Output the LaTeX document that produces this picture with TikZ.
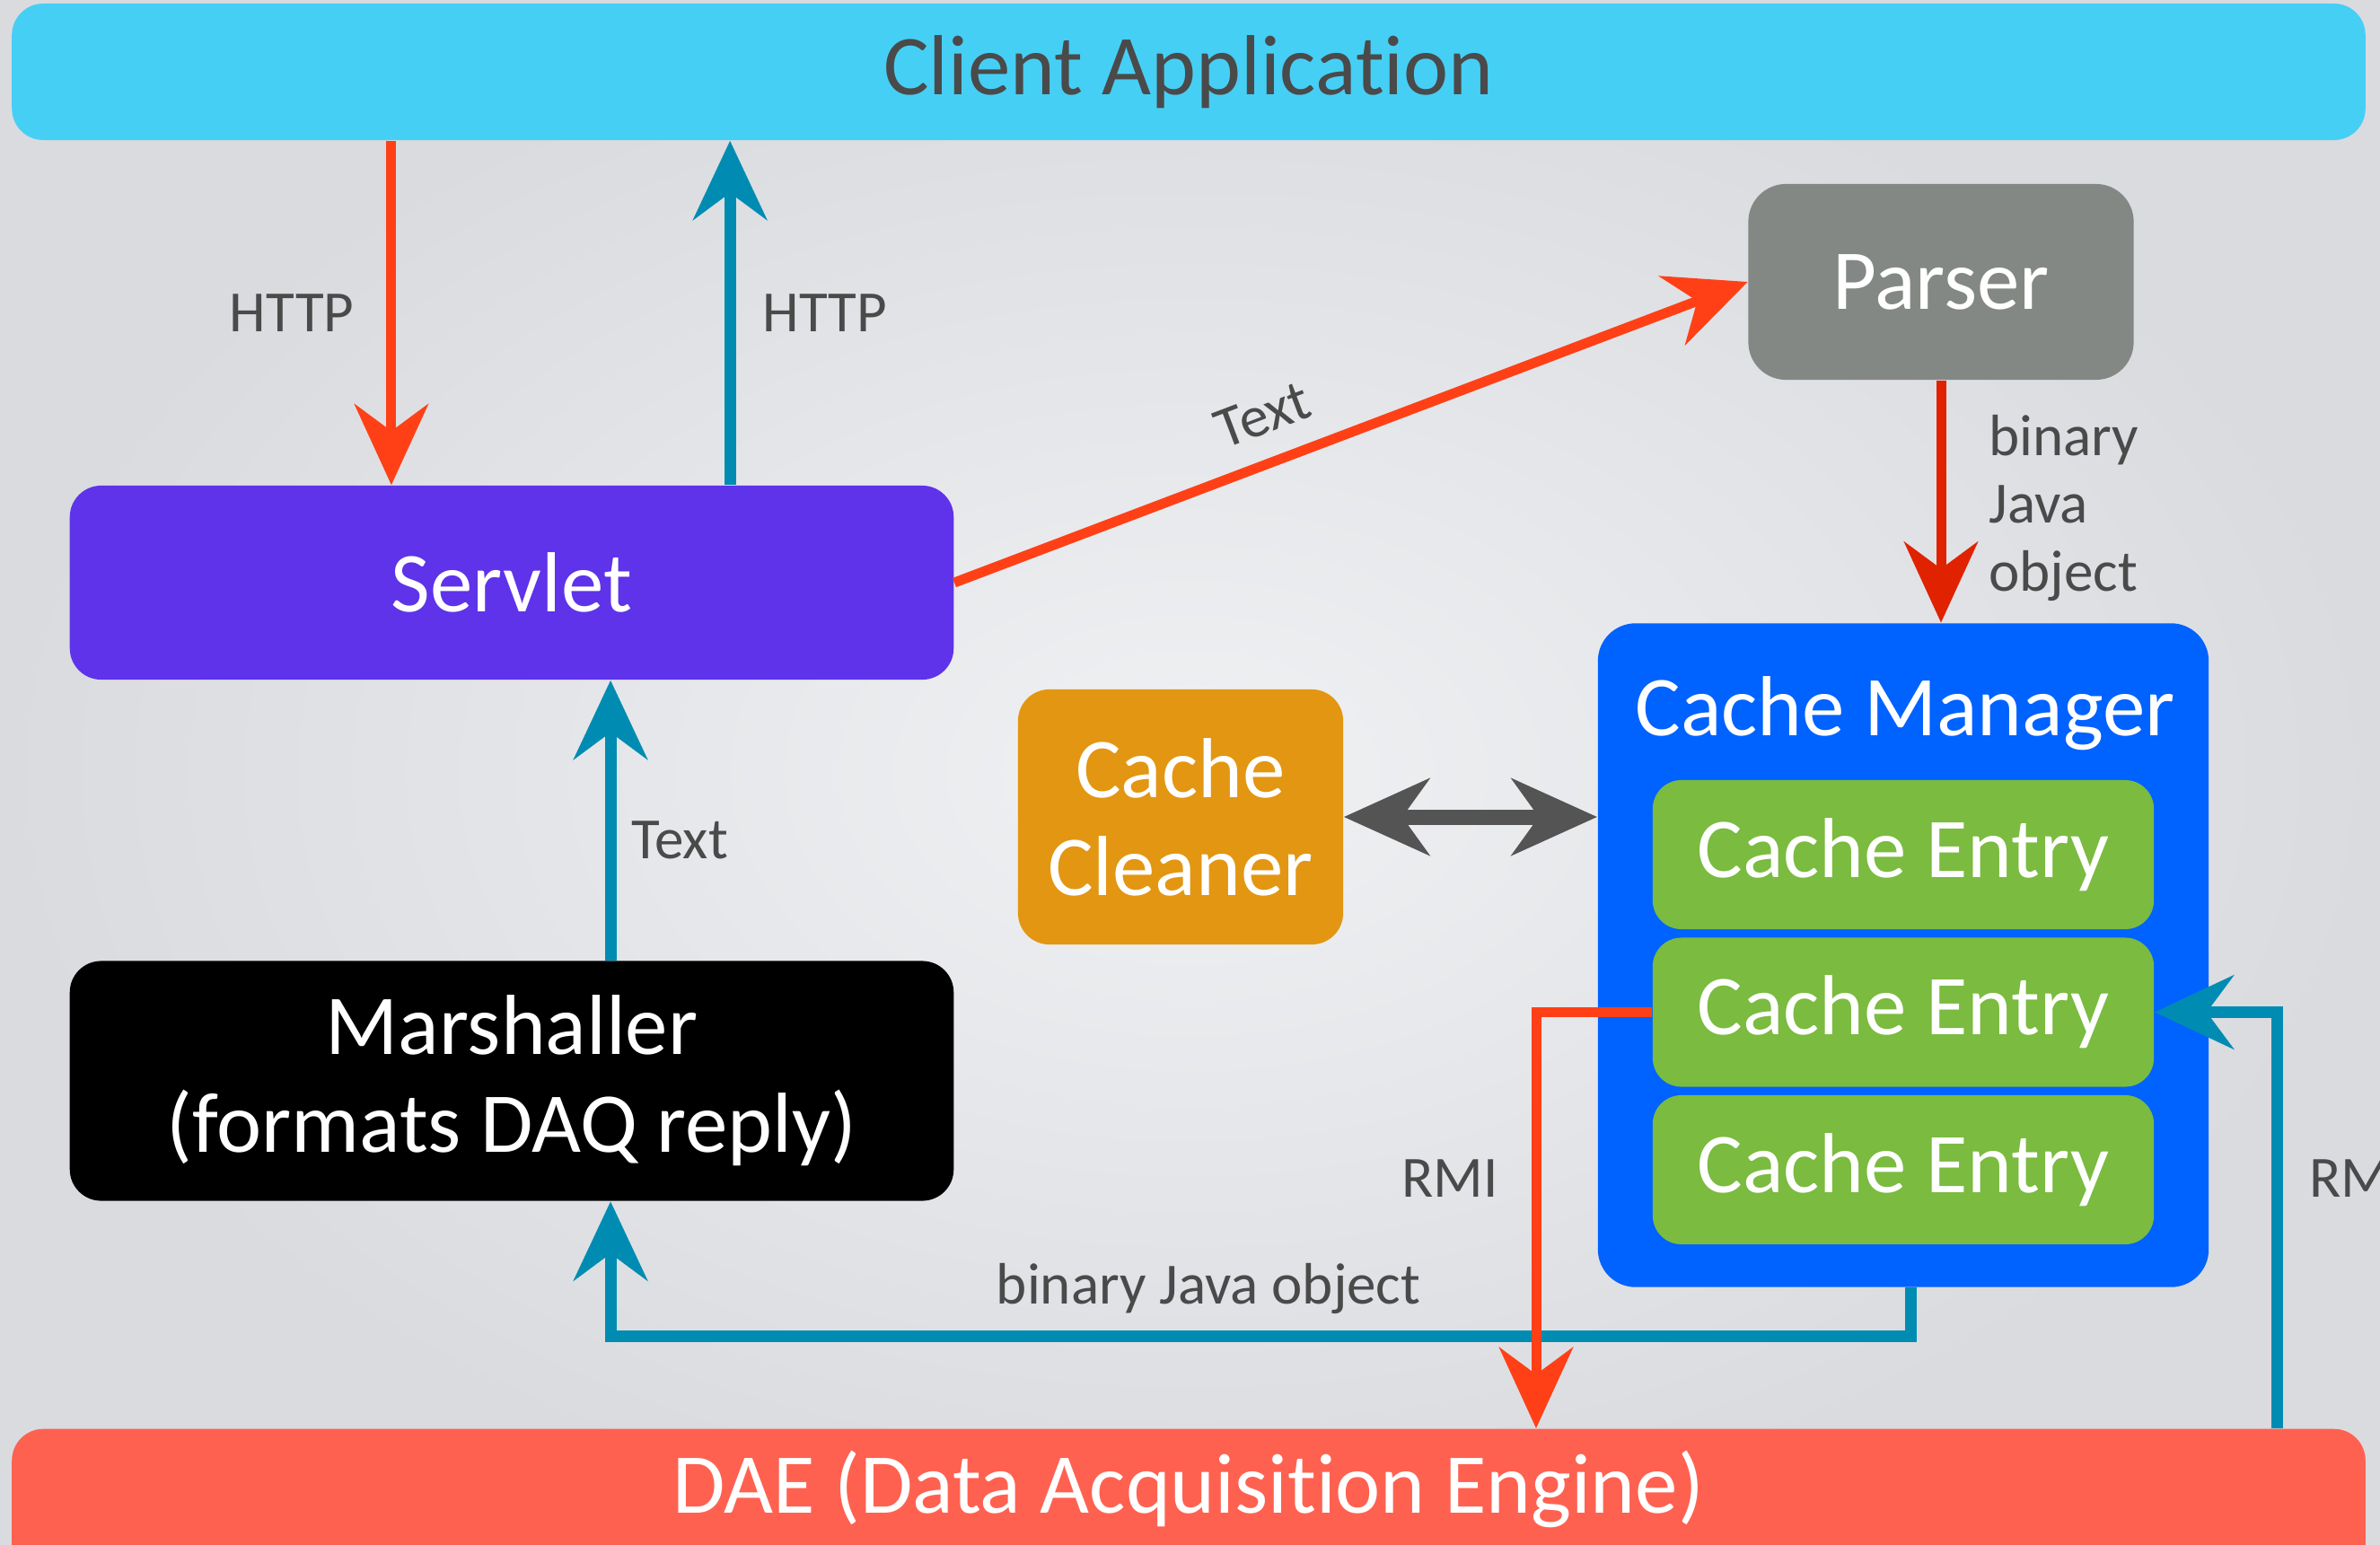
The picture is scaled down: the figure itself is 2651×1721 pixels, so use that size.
\documentclass[tikz,border=0pt]{standalone}
\usepackage{fontspec}
\setmainfont{Carlito}[Ligatures={NoCommon}]
\usepackage{tikz}
\usetikzlibrary{arrows.meta,positioning}
\definecolor{dfbglight}{RGB}{240,241,243}
\definecolor{dfbgdark}{RGB}{218,219,223}
\definecolor{dfcyan}{RGB}{70,207,245}
\definecolor{dfpurple}{RGB}{94,51,233}
\definecolor{dfgrey}{RGB}{132,136,133}
\definecolor{dfblue}{RGB}{0,98,255}
\definecolor{dfgreen}{RGB}{122,187,64}
\definecolor{dforange}{RGB}{227,150,18}
\definecolor{dfcoral}{RGB}{255,97,81}
\definecolor{dfred}{RGB}{255,64,23}
\definecolor{dfdarkred}{RGB}{224,34,0}
\definecolor{dfteal}{RGB}{0,140,178}
\definecolor{dfarrowgrey}{RGB}{84,84,84}
\definecolor{dftext}{RGB}{74,74,74}
\tikzstyle{block} = [rectangle, rounded corners=0.35cm, inner sep=0pt, text=white, align=center, font=\fontsize{27}{31}\selectfont]
\tikzstyle{entry} = [block, fill=dfgreen, minimum width=5.58cm, minimum height=1.66cm, rounded corners=0.32cm]
\tikzstyle{tag} = [text=dftext, inner sep=0pt, font=\fontsize{18.5}{21.5}\selectfont]
\tikzstyle{redarrow} = [line width=0.11cm, color=dfred, -{Stealth[length=0.9cm,width=0.82cm,inset=0.3cm]}]
\tikzstyle{tealarrow} = [line width=0.13cm, color=dfteal, -{Stealth[length=0.88cm,width=0.82cm,inset=0.3cm]}]
\tikzstyle{greyarrow} = [line width=0.17cm, color=dfarrowgrey, {Stealth[length=0.95cm,width=0.85cm,inset=0.3cm]}-{Stealth[length=0.95cm,width=0.85cm,inset=0.3cm]}]

\begin{document}
\begin{tikzpicture}[x=0.01cm, y=-0.01cm]
\useasboundingbox (0,0) rectangle (2651,1721);
\clip (0,0) rectangle (2651,1721);
\shade[inner color=dfbglight, outer color=dfbgdark] (0,0) rectangle (2651,1721);

\node[block, fill=dfcyan, text=dftext, minimum width=26.2cm, minimum height=1.52cm] (client) at (1324,80) {Client Application};
\node[block, fill=dfpurple, minimum width=9.84cm, minimum height=2.16cm] (servlet) at (570,649) {Servlet};
\node[block, fill=black, minimum width=9.84cm, minimum height=2.67cm] (marshaller) at (570,1204) {Marshaller\\(formats DAQ reply)};
\node[block, fill=dfgrey, minimum width=4.29cm, minimum height=2.18cm, rounded corners=0.42cm] (parser) at (2162,314) {Parser};
\node[block, fill=dforange, minimum width=3.62cm, minimum height=2.84cm] (cleaner) at (1315,910) {Cache\\Cleaner};
\node[block, fill=dfblue, minimum width=6.8cm, minimum height=7.39cm, rounded corners=0.42cm] (manager) at (2120,1064) {};
\node[block] (mgrtitle) at (2122,795) {Cache Manager};
\node[entry] (entryone) at (2120,952) {Cache Entry};
\node[entry, below=0.08cm of entryone] (entrytwo) {Cache Entry};
\node[entry, below=0.08cm of entrytwo] (entrythree) {Cache Entry};
\node[block, fill=dfcoral, minimum width=26.2cm, minimum height=2.6cm, anchor=north] (dae) at (1324,1591) {};
\node[block] (daetitle) at (1324,1659) {DAE (Data Acquisition Engine)};

\coordinate (httpdown) at ([xshift=-1.34cm]servlet.north);
\coordinate (httpup) at ([xshift=2.43cm]servlet.north);
\coordinate (textup) at ([xshift=1.1cm]marshaller.north);
\coordinate (objout) at ([xshift=0.08cm]manager.south);
\coordinate (busline) at (0,1488);
\coordinate (rmidown) at (1711,0);
\coordinate (rmiup) at (2536,0);

\draw[redarrow] (client.south -| httpdown) -- node[tag, left=0.36cm] {HTTP} (httpdown);
\draw[tealarrow] (httpup) -- node[tag, right=0.3cm] {HTTP} (client.south -| httpup);
\draw[redarrow] (servlet.east) -- node[tag, sloped, above=0.26cm, pos=0.41] {Text} (parser.west);
\draw[redarrow, color=dfdarkred] (parser.south) -- node[tag, right=0.48cm, align=left, yshift=-0.07cm] {binary\\Java\\object} (parser.south |- manager.north);
\draw[greyarrow] (cleaner.east) -- (cleaner.east -| manager.west);
\draw[tealarrow] (textup) -- node[tag, right=0.17cm, pos=0.43] {Text} (servlet.south -| textup);
\draw[tealarrow] (objout) -- (objout |- busline) -- node[tag, above=0.18cm, pos=0.54] {binary Java object} (textup |- busline) -- (textup |- marshaller.south);
\draw[redarrow] (entrytwo.west) -| node[tag, left=0.37cm, pos=0.7] {RMI} (rmidown |- dae.north);
\draw[tealarrow] (rmiup |- dae.north) |- node[tag, right=0.3cm, pos=0.3] {RMI} (entrytwo.east);
\end{tikzpicture}
\end{document}
